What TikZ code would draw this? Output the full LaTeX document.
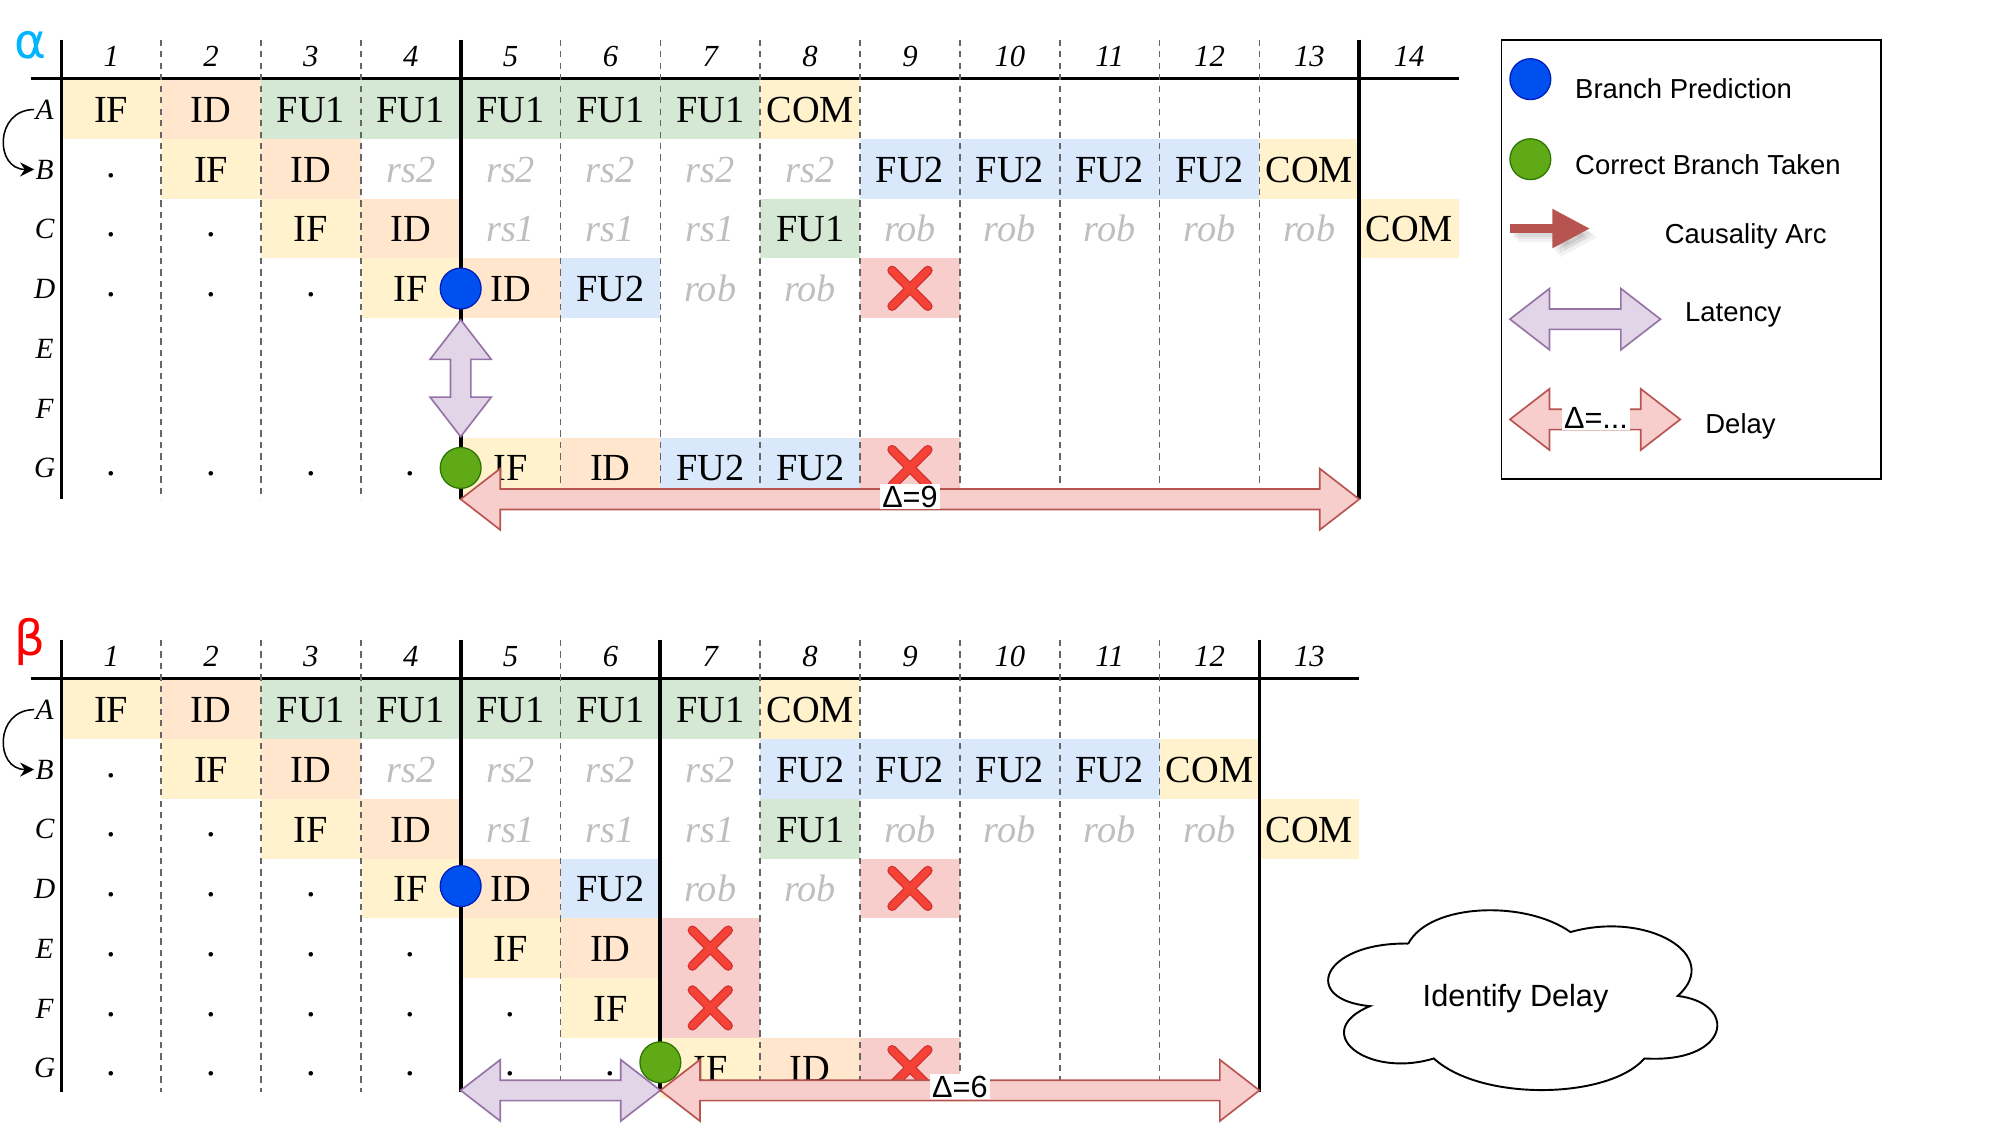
\documentclass[tikz,border=0pt]{standalone}
\usepackage{fontspec}
\setmainfont{Liberation Serif}
\newfontfamily\sansfam{Liberation Sans}
\newfontfamily\greekfam{DejaVu Sans}
\usetikzlibrary{arrows.meta,calc}

\definecolor{ifcol}{HTML}{FFF2CC}
\definecolor{idcol}{HTML}{FFE6CC}
\definecolor{fuonecol}{HTML}{D5E8D4}
\definecolor{futwocol}{HTML}{DAE8FC}
\definecolor{killcol}{HTML}{F8CECC}
\definecolor{ghost}{HTML}{BFBFBF}
\definecolor{predblue}{HTML}{0050EF}
\definecolor{predblueline}{HTML}{001DBC}
\definecolor{takengreen}{HTML}{60A917}
\definecolor{takengreenline}{HTML}{2D7600}
\definecolor{latfill}{HTML}{E1D5E7}
\definecolor{latline}{HTML}{9673A6}
\definecolor{delfill}{HTML}{F8CECC}
\definecolor{delline}{HTML}{B85450}
\definecolor{xred}{HTML}{F44336}
\definecolor{xdark}{HTML}{D32F2F}
\definecolor{alphacol}{HTML}{00B4FF}
\colorlet{stagecol}{black!60}

\tikzset{
  cell/.style={minimum width=78.2pt, minimum height=46.8pt, inner sep=0pt,
    text height=21pt, text depth=0pt, font=\fontsize{30}{32}\selectfont},
  colnum/.style={anchor=base, font=\fontsize{24}{26}\selectfont\itshape},
  rowlbl/.style={anchor=base, inner sep=1pt, font=\fontsize{23}{25}\selectfont\itshape},
  stagesep/.style={draw=stagecol, line width=1.2pt, dash pattern=on 5pt off 4pt},
  flushline/.style={line width=3pt},
  frameline/.style={line width=2pt},
  predicted/.style={circle, minimum size=32pt, inner sep=0pt, fill=predblue,
    draw=predblueline, line width=1pt},
  taken/.style={circle, minimum size=32pt, inner sep=0pt, fill=takengreen,
    draw=takengreenline, line width=1pt},
  latency/.style={fill=latfill, draw=latline, line width=1.3pt},
  delay/.style={fill=delfill, draw=delline, line width=1.3pt},
  deltalbl/.style={fill=white, inner sep=1.5pt, font=\sansfam\fontsize{24}{26}\selectfont},
  legtext/.style={anchor=base west, inner sep=0pt, font=\sansfam\fontsize{21.5}{24}\selectfont},
  causal/.style={-{Stealth[length=11pt,width=11pt]}, line width=1.2pt},
  causalarc/.style={draw=delline, line width=6.6pt, -{Triangle[length=29.5pt,width=29pt]}},
  xback/.style={draw=xdark, line width=7.5pt, line cap=round},
  xfront/.style={draw=xred, line width=5.5pt, line cap=round},
  greek/.style={inner sep=0pt, font=\greekfam\fontsize{38}{40}\selectfont}
}

\newcommand{\dt}{\raisebox{4pt}{.}}
\newcommand{\gt}[1]{{\itshape\color{ghost}#1}}
\newcommand{\cellrow}[3]{%
  \foreach \cl/\fc/\tx in {#3}
    {\node[cell, fill=\fc] (#1-#2-\cl) at ({48+78.2*(\cl-0.5)}, {62+46.8*(#2-0.5)}) {\tx};}
}
\newcommand{\xcross}[1]{%
  \draw[xback] ([shift={(-14,-14)}]#1.center) -- ([shift={(14,14)}]#1.center)
    ([shift={(-14,14)}]#1.center) -- ([shift={(14,-14)}]#1.center);
  \draw[xfront] ([shift={(-14,-14)}]#1.center) -- ([shift={(14,14)}]#1.center)
    ([shift={(-14,14)}]#1.center) -- ([shift={(14,-14)}]#1.center);
}
\newcommand{\hdarrow}[3]{%
  \draw[#1] (#2) -- ([shift={(31,-24)}]#2) -- ([shift={(31,-8)}]#2) -- ([shift={(-31,-8)}]#3)
    -- ([shift={(-31,-24)}]#3) -- (#3) -- ([shift={(-31,24)}]#3) -- ([shift={(-31,8)}]#3)
    -- ([shift={(31,8)}]#2) -- ([shift={(31,24)}]#2) -- cycle;
}
\newcommand{\vdarrow}[3]{%
  \draw[#1] (#2) -- ([shift={(24,31)}]#2) -- ([shift={(8,31)}]#2) -- ([shift={(8,-31)}]#3)
    -- ([shift={(24,-31)}]#3) -- (#3) -- ([shift={(-24,-31)}]#3) -- ([shift={(-8,-31)}]#3)
    -- ([shift={(-8,31)}]#2) -- ([shift={(-24,31)}]#2) -- cycle;
}

\begin{document}
\begin{tikzpicture}[x=1pt, y=-1pt]
  \useasboundingbox (0,0) rectangle (1568,885);

  % alpha
  \cellrow{a}{1}{1/ifcol/IF, 2/idcol/ID, 3/fuonecol/FU1, 4/fuonecol/FU1, 5/fuonecol/FU1,
    6/fuonecol/FU1, 7/fuonecol/FU1, 8/ifcol/COM}
  \cellrow{a}{2}{1/none/\dt, 2/ifcol/IF, 3/idcol/ID, 4/none/\gt{rs2}, 5/none/\gt{rs2},
    6/none/\gt{rs2}, 7/none/\gt{rs2}, 8/none/\gt{rs2}, 9/futwocol/FU2, 10/futwocol/FU2,
    11/futwocol/FU2, 12/futwocol/FU2, 13/ifcol/COM}
  \cellrow{a}{3}{1/none/\dt, 2/none/\dt, 3/ifcol/IF, 4/idcol/ID, 5/none/\gt{rs1},
    6/none/\gt{rs1}, 7/none/\gt{rs1}, 8/fuonecol/FU1, 9/none/\gt{rob}, 10/none/\gt{rob},
    11/none/\gt{rob}, 12/none/\gt{rob}, 13/none/\gt{rob}, 14/ifcol/COM}
  \cellrow{a}{4}{1/none/\dt, 2/none/\dt, 3/none/\dt, 4/ifcol/IF, 5/idcol/ID, 6/futwocol/FU2,
    7/none/\gt{rob}, 8/none/\gt{rob}, 9/killcol/{}}
  \cellrow{a}{7}{1/none/\dt, 2/none/\dt, 3/none/\dt, 4/none/\dt, 5/ifcol/IF, 6/idcol/ID,
    7/futwocol/FU2, 8/futwocol/FU2, 9/killcol/{}}

  \draw[frameline] (24,61.5) -- (1143,61.5);
  \draw[frameline] (48,31) -- (48,391);
  \foreach \k in {1,2,3,5,6,...,12}
    \draw[stagesep] ({48+78.2*\k},31) -- ({48+78.2*\k},391);
  \foreach \k in {4,13}
    \draw[flushline] ({48+78.2*\k},31) -- ({48+78.2*\k},391);

  \xcross{a-4-9}
  \xcross{a-7-9}

  \node[predicted] (a-bp) at (360.8,226) {};
  \node[taken] (a-ct) at (360.8,366.5) {};
  \coordinate (a-lat1) at ([yshift=-8pt]a-bp.south);
  \coordinate (a-lat2) at ([yshift=8pt]a-ct.north);
  \vdarrow{latency}{a-lat1}{a-lat2}
  \coordinate (a-del1) at (360.8,391);
  \coordinate (a-del2) at (1064.6,391);
  \hdarrow{delay}{a-del1}{a-del2}
  \node[deltalbl] (a-dl) at ($(a-del1)!0.5!(a-del2)+(0,-2)$) {Δ=9};

  \foreach \c in {1,...,14}
    \node[colnum] (a-h\c) at ({48+78.2*(\c-0.5)},52) {\c};
  \foreach \r/\l in {1/A,2/B,3/C,4/D,5/E,6/F,7/G}
    \node[rowlbl] (a-l\l) at (35,{62+46.8*(\r-0.5)+8}) {\l};
  \draw[causal] (a-lA.west) to[out=180, in=180, looseness=1.7] (a-lB.west);
  \node[greek, text=alphacol] (alpha) at (23.7,35.5) {α};

  % beta
  \begin{scope}[shift={(0,470)}]
    \cellrow{b}{1}{1/ifcol/IF, 2/idcol/ID, 3/fuonecol/FU1, 4/fuonecol/FU1, 5/fuonecol/FU1,
      6/fuonecol/FU1, 7/fuonecol/FU1, 8/ifcol/COM}
    \cellrow{b}{2}{1/none/\dt, 2/ifcol/IF, 3/idcol/ID, 4/none/\gt{rs2}, 5/none/\gt{rs2},
      6/none/\gt{rs2}, 7/none/\gt{rs2}, 8/futwocol/FU2, 9/futwocol/FU2, 10/futwocol/FU2,
      11/futwocol/FU2, 12/ifcol/COM}
    \cellrow{b}{3}{1/none/\dt, 2/none/\dt, 3/ifcol/IF, 4/idcol/ID, 5/none/\gt{rs1},
      6/none/\gt{rs1}, 7/none/\gt{rs1}, 8/fuonecol/FU1, 9/none/\gt{rob}, 10/none/\gt{rob},
      11/none/\gt{rob}, 12/none/\gt{rob}, 13/ifcol/COM}
    \cellrow{b}{4}{1/none/\dt, 2/none/\dt, 3/none/\dt, 4/ifcol/IF, 5/idcol/ID, 6/futwocol/FU2,
      7/none/\gt{rob}, 8/none/\gt{rob}, 9/killcol/{}}
    \cellrow{b}{5}{1/none/\dt, 2/none/\dt, 3/none/\dt, 4/none/\dt, 5/ifcol/IF, 6/idcol/ID,
      7/killcol/{}}
    \cellrow{b}{6}{1/none/\dt, 2/none/\dt, 3/none/\dt, 4/none/\dt, 5/none/\dt, 6/ifcol/IF,
      7/killcol/{}}
    \cellrow{b}{7}{1/none/\dt, 2/none/\dt, 3/none/\dt, 4/none/\dt, 5/none/\dt, 6/none/\dt,
      7/ifcol/IF, 8/idcol/ID, 9/killcol/{}}

    \draw[frameline] (24,61.5) -- (1064.6,61.5);
    \draw[frameline] (48,31) -- (48,385);
    \foreach \k in {1,2,3,5,7,8,...,11}
      \draw[stagesep] ({48+78.2*\k},31) -- ({48+78.2*\k},385);
    \foreach \k in {4,6,12}
      \draw[flushline] ({48+78.2*\k},31) -- ({48+78.2*\k},385);

    \xcross{b-4-9}
    \xcross{b-5-7}
    \xcross{b-6-7}
    \xcross{b-7-9}

    \node[predicted] (b-bp) at (360.8,224) {};
    \node[taken] (b-ct) at (517.2,362) {};
    \coordinate (b-lat1) at (360.8,384);
    \coordinate (b-lat2) at (517.2,384);
    \hdarrow{latency}{b-lat1}{b-lat2}
    \coordinate (b-del2) at (986.4,384);
    \hdarrow{delay}{b-lat2}{b-del2}
    \node[deltalbl] (b-dl) at ($(b-lat2)!0.5!(b-del2)+(0,-3)$) {Δ=6};

    \foreach \c in {1,...,13}
      \node[colnum] (b-h\c) at ({48+78.2*(\c-0.5)},52) {\c};
    \foreach \r/\l in {1/A,2/B,3/C,4/D,5/E,6/F,7/G}
      \node[rowlbl] (b-l\l) at (35,{62+46.8*(\r-0.5)+8}) {\l};
    \draw[causal] (b-lA.west) to[out=180, in=180, looseness=1.7] (b-lB.west);
    \node[greek, text=red] (beta) at (23.5,33) {β};
  \end{scope}

  % legend
  \node[draw, line width=1.5pt, minimum width=297pt, minimum height=344pt, inner sep=0pt]
    (legend) at (1324.5,203) {};
  \node[predicted] (lg-bp) at (1198.6,62) {};
  \node[legtext] (lg-bpt) at (1233.5,77) {Branch Prediction};
  \node[taken] (lg-ct) at (1198.6,124.7) {};
  \node[legtext] (lg-ctt) at (1233.5,136.3) {Correct Branch Taken};
  \coordinate (lg-ca1) at (1182.6,179);
  \coordinate (lg-ca2) at (1245.3,179);
  \foreach \sh in {2,4,6}
    \draw[causalarc, draw=black, opacity=0.05] ([shift={(\sh,\sh+1)}]lg-ca1) -- ([shift={(\sh,\sh+1)}]lg-ca2);
  \draw[causalarc] (lg-ca1) -- (lg-ca2);
  \node[legtext] (lg-cat) at (1303.7,190.5) {Causality Arc};
  \coordinate (lg-lat1) at (1182.6,250);
  \coordinate (lg-lat2) at (1300.5,250);
  \hdarrow{latency}{lg-lat1}{lg-lat2}
  \node[legtext] (lg-latt) at (1319.6,252) {Latency};
  \coordinate (lg-del1) at (1182.6,328.5);
  \coordinate (lg-del2) at (1316,328.5);
  \hdarrow{delay}{lg-del1}{lg-del2}
  \node[deltalbl] (lg-dl) at (1250,327) {Δ=...};
  \node[legtext] (lg-delt) at (1335.5,339.4) {Delay};

  % cloud
  \begin{scope}[shift={(1190,783)}]
    \draw[line width=1.5pt, fill=white] (-87,-44) .. controls (-70,-76) and (5,-78) .. (40,-53)
      .. controls (100,-70) and (160,-35) .. (124,-3)
      .. controls (172,3) and (165,50) .. (98,46)
      .. controls (70,78) and (-30,80) .. (-67,46)
      .. controls (-120,62) and (-165,25) .. (-117,5)
      .. controls (-172,0) and (-155,-45) .. (-87,-44);
    \node[anchor=base, font=\sansfam\fontsize{24}{26}\selectfont] (idd) at (-3,5.4) {Identify Delay};
  \end{scope}
\end{tikzpicture}
\end{document}
